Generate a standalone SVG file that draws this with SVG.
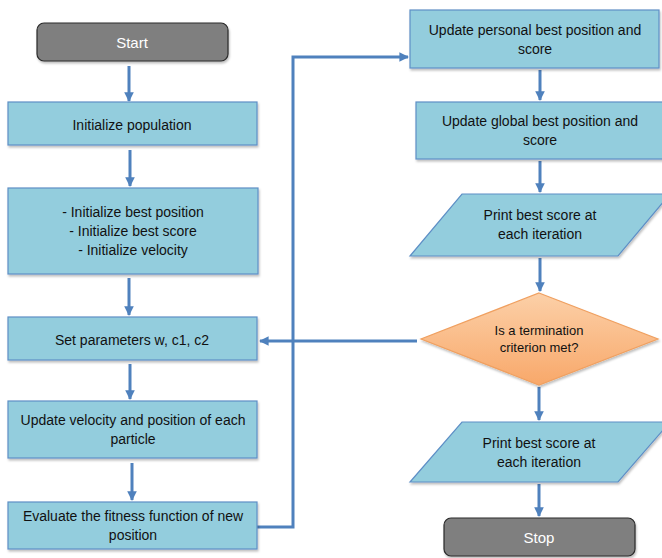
<svg xmlns="http://www.w3.org/2000/svg" width="662" height="558" viewBox="0 0 662 558">
<style>
.box{fill:#93cddd;stroke:#5e8fc6;stroke-width:1.2}
.term{fill:#7f7f7f;stroke:#2b2b2b;stroke-width:1.2}
.dia{fill:url(#og);stroke:#f0a060;stroke-width:1.2}
.t{font-family:"Liberation Sans",Arial,sans-serif;font-size:14px;fill:#111;text-anchor:middle}
.tw{font-family:"Liberation Sans",Arial,sans-serif;font-size:15px;fill:#fff;text-anchor:middle}
.c{fill:none;stroke:#4f81bd;stroke-width:3}
</style>
<defs>
<linearGradient id="og" x1="0" y1="0" x2="0" y2="1">
<stop offset="0" stop-color="#fcd0a8"/>
<stop offset="1" stop-color="#f8a86a"/>
</linearGradient>
<filter id="sh" x="-10%" y="-10%" width="120%" height="130%">
<feDropShadow dx="1" dy="2" stdDeviation="1.2" flood-color="#000" flood-opacity="0.25"/>
</filter>
<marker id="ah" viewBox="0 0 10 10" refX="9" refY="5" markerWidth="3.2" markerHeight="3.2" orient="auto" markerUnits="strokeWidth">
<path d="M0,0 L10,5 L0,10 z" fill="#4f81bd"/>
</marker>
</defs>
<g id="connectors">
<line class="c" x1="129" y1="66" x2="129" y2="101" marker-end="url(#ah)"/>
<line class="c" x1="130" y1="150" x2="130" y2="186" marker-end="url(#ah)"/>
<line class="c" x1="129" y1="278" x2="129" y2="315" marker-end="url(#ah)"/>
<line class="c" x1="130" y1="364" x2="130" y2="399" marker-end="url(#ah)"/>
<line class="c" x1="132" y1="463" x2="132" y2="500" marker-end="url(#ah)"/>
<polyline class="c" points="257,527 293,527 293,57 408,57" marker-end="url(#ah)"/>
<line class="c" x1="540" y1="70" x2="540" y2="100" marker-end="url(#ah)"/>
<line class="c" x1="540" y1="161" x2="540" y2="192" marker-end="url(#ah)"/>
<line class="c" x1="540" y1="258" x2="540" y2="291" marker-end="url(#ah)"/>
<line class="c" x1="417" y1="341" x2="260" y2="341" marker-end="url(#ah)"/>
<line class="c" x1="539" y1="387" x2="539" y2="420" marker-end="url(#ah)"/>
<line class="c" x1="539" y1="484" x2="539" y2="516" marker-end="url(#ah)"/>
</g>
<g id="start">
<rect class="term" x="37" y="23" width="191" height="38" rx="7" filter="url(#sh)"/>
<text class="tw" x="132" y="47.5">Start</text>
</g>
<g id="init-pop">
<rect class="box" x="8" y="102" width="249" height="43" filter="url(#sh)"/>
<text class="t" x="132" y="129.5">Initialize population</text>
</g>
<g id="init-best">
<rect class="box" x="8" y="188" width="250" height="86" filter="url(#sh)"/>
<text class="t" x="133" y="217">- Initialize best position</text>
<text class="t" x="133" y="236">- Initialize best score</text>
<text class="t" x="133" y="255">- Initialize velocity</text>
</g>
<g id="set-params">
<rect class="box" x="8" y="317" width="249" height="43" filter="url(#sh)"/>
<text class="t" x="132" y="344.5">Set parameters w, c1, c2</text>
</g>
<g id="update-velocity">
<rect class="box" x="8" y="401" width="249" height="57" filter="url(#sh)"/>
<text class="t" x="133" y="425">Update velocity and position of each</text>
<text class="t" x="133" y="444">particle</text>
</g>
<g id="evaluate">
<rect class="box" x="8" y="502" width="249" height="47" filter="url(#sh)"/>
<text class="t" x="133" y="521">Evaluate the fitness function of new</text>
<text class="t" x="133" y="540">position</text>
</g>
<g id="update-personal">
<rect class="box" x="410" y="10" width="249" height="58" filter="url(#sh)"/>
<text class="t" x="535" y="34.5">Update personal best position and</text>
<text class="t" x="535" y="53.5">score</text>
</g>
<g id="update-global">
<rect class="box" x="416" y="102" width="252" height="57" filter="url(#sh)"/>
<text class="t" x="540" y="126">Update global best position and</text>
<text class="t" x="540" y="145">score</text>
</g>
<g id="print1">
<polygon class="box" points="462,194 670,194 618,256 410,256" filter="url(#sh)"/>
<text class="t" x="540" y="220">Print best score at</text>
<text class="t" x="540" y="239">each iteration</text>
</g>
<g id="decision">
<polygon class="dia" points="539,293 658,339 539,385 421,339" filter="url(#sh)"/>
<text class="t" x="539" y="335" style="font-size:13px">Is a termination</text>
<text class="t" x="539" y="352" style="font-size:13px">criterion met?</text>
</g>
<g id="print2">
<polygon class="box" points="462,422 670,422 618,482 410,482" filter="url(#sh)"/>
<text class="t" x="539" y="448">Print best score at</text>
<text class="t" x="539" y="467">each iteration</text>
</g>
<g id="stop">
<rect class="term" x="444" y="518" width="191" height="38" rx="7" filter="url(#sh)"/>
<text class="tw" x="539" y="543">Stop</text>
</g>
</svg>
